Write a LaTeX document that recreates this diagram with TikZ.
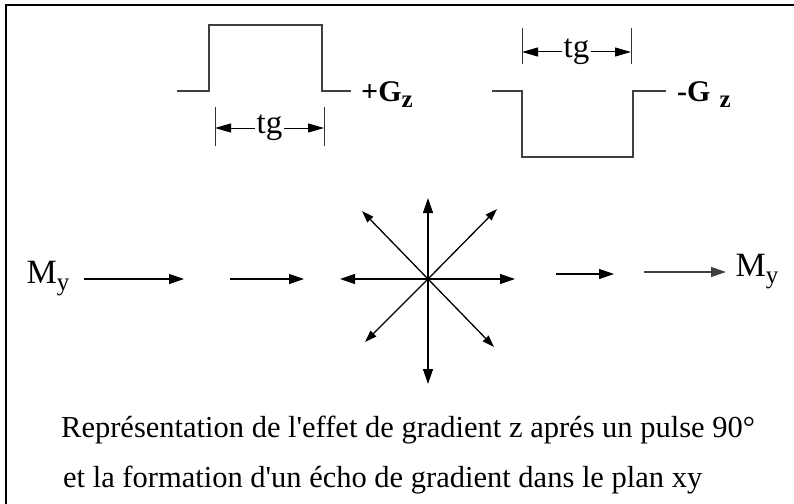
\documentclass[tikz,border=0pt]{standalone}
\usepackage{fontspec}
\setmainfont{Liberation Serif}[Ligatures=TeXOff]
\usetikzlibrary{arrows.meta, positioning}

\begin{document}
\begin{tikzpicture}[x=1pt, y=-1pt,
    wave/.style={line width=1.2pt, black!75},
    vec/.style={line width=1.3pt, -{Triangle[length=15pt, width=10pt]}},
    spoke/.style={line width=1.3pt, -{Triangle[length=12pt, width=8pt]}},
    dimline/.style={line width=1pt, {Triangle[length=16pt, width=9pt]}-{Triangle[length=16pt, width=9pt]}},
    tickline/.style={line width=1pt, black!80},
    tglabel/.style={fill=white, inner sep=2pt, font=\fontsize{33}{33}\selectfont},
    gzlabel/.style={font=\fontsize{30}{30}\selectfont\bfseries, inner sep=0pt, anchor=base west},
    mlabel/.style={font=\fontsize{34}{34}\selectfont, inner sep=0pt}]
    \useasboundingbox (0,0) rectangle (794,503);

    % Frame
    \draw[line width=2pt] (6,520) -- (6,5) -- (810,5);

    % Gradient lobes
    \draw[wave] (177,91) -- (209,91) -- (209,25) -- (322,25) -- (322,91) -- (351,91);
    \draw[wave] (492,91) -- (522,91) -- (522,157) -- (633,157) -- (633,91) -- (666,91);
    \node[gzlabel] (GzPlus) at (361,101) {+G\raisebox{-6pt}{\fontsize{25}{25}\selectfont z}};
    \node[gzlabel] (GzMinus) at (677,101) {-G\hspace{9pt}\raisebox{-6pt}{\fontsize{25}{25}\selectfont z}};

    % Duration tg
    \coordinate (T1a) at (215,107);
    \coordinate (T1b) at (324,107);
    \draw[tickline] (T1a) -- ++(0,39);
    \draw[tickline] (T1b) -- ++(0,39);
    \draw[dimline] ([yshift=-21pt]T1a) -- ([yshift=-21pt]T1b)
        node[midway, tglabel] (Tg1) {tg};
    \coordinate (T2a) at (522,28);
    \coordinate (T2b) at (631,28);
    \draw[tickline] (T2a) -- ++(0,36);
    \draw[tickline] (T2b) -- ++(0,36);
    \draw[dimline] ([yshift=-24pt]T2a) -- ([yshift=-24pt]T2b)
        node[midway, tglabel] (Tg2) {tg};

    % Magnetisation before the dephasing
    \node[mlabel] (MyIn) at (48,279) {M\raisebox{-7pt}{\fontsize{25}{25}\selectfont y}};
    \coordinate (A1s) at (84,279);
    \coordinate (A1e) at (184,279);
    \coordinate (A2s) at (230,279);
    \coordinate (A2e) at (304,279);
    \draw[vec] (A1s) -- (A1e);
    \draw[vec] (A2s) -- (A2e);

    % Dephased spins
    \coordinate (C) at (428,279);
    \coordinate (E) at (515,279);
    \coordinate (NE) at (497,209);
    \coordinate (N) at (428,198);
    \coordinate (NW) at (362,211);
    \coordinate (W) at (340,279);
    \coordinate (SW) at (365,342);
    \coordinate (S) at (428,384);
    \coordinate (SE) at (494,347);
    \draw[vec] (C) -- (E);
    \draw[vec] (C) -- (N);
    \draw[vec] (C) -- (W);
    \draw[vec] (C) -- (S);
    \draw[spoke] (C) -- (NE);
    \draw[spoke] (C) -- (NW);
    \draw[spoke] (C) -- (SW);
    \draw[spoke] (C) -- (SE);

    % Refocused echo
    \coordinate (A3s) at (556,274);
    \coordinate (A3e) at (614,274);
    \coordinate (A4s) at (644,272);
    \coordinate (A4e) at (726,272);
    \draw[vec] (A3s) -- (A3e);
    \draw[line width=1.3pt, black!75, -{Triangle[length=15pt, width=10pt]}] (A4s) -- (A4e);
    \node[mlabel] (MyOut) at (757,272) {M\raisebox{-7pt}{\fontsize{25}{25}\selectfont y}};

    % Caption
    \node[anchor=base west, inner sep=0pt, font=\fontsize{30.5}{30.5}\selectfont] (Cap1) at (61,437)
        {Représentation de l'effet de gradient z aprés un pulse 90°};
    \node[anchor=base west, inner sep=0pt, font=\fontsize{30.5}{30.5}\selectfont] (Cap2) at (63,487)
        {et la formation d'un écho de gradient dans le plan xy};
\end{tikzpicture}
\end{document}
